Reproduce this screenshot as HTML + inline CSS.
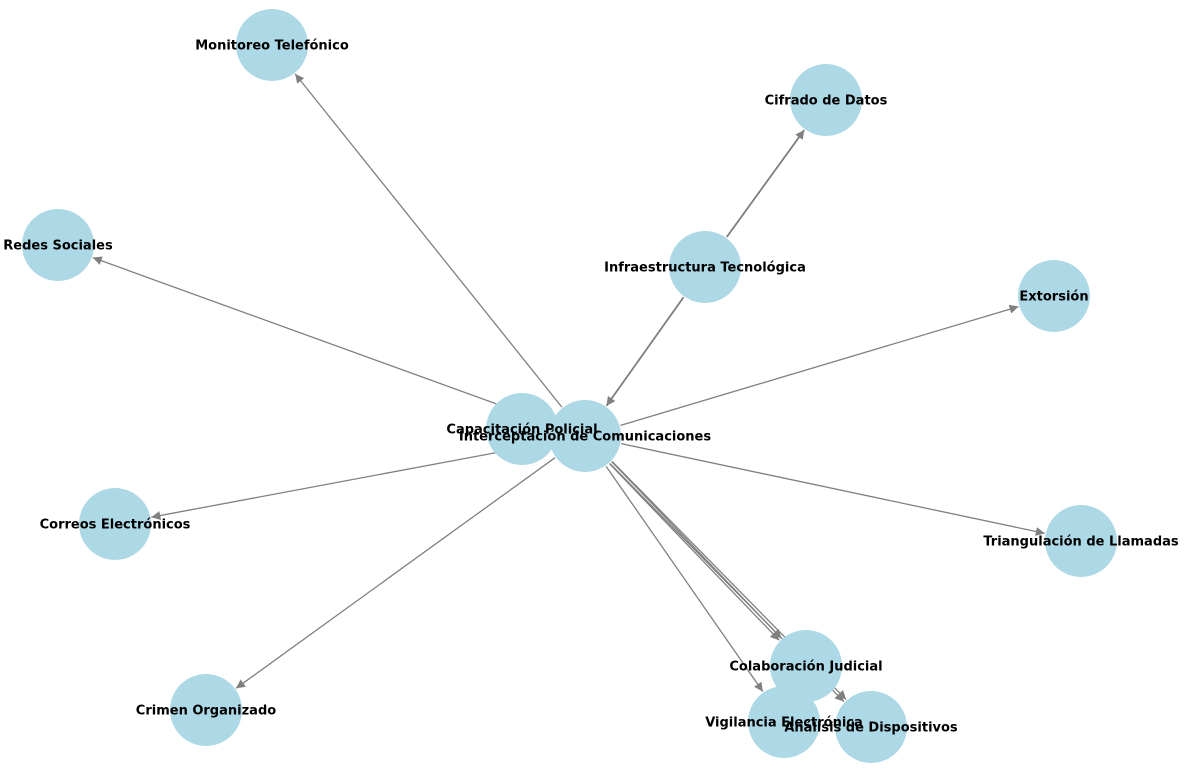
<!DOCTYPE html>
<html><head><meta charset="utf-8"><style>
body{margin:0;background:#fff}
svg{display:block}
text{font-family:"DejaVu Sans","Liberation Sans",sans-serif;font-weight:bold;font-size:13px;fill:#000;text-anchor:middle;dominant-baseline:central}
</style></head><body>
<svg id="s" width="1184" height="772" viewBox="0 0 1184 772" xmlns="http://www.w3.org/2000/svg">
<defs><marker id="a" viewBox="0 0 10 10" refX="10" refY="5" markerWidth="9" markerHeight="9" markerUnits="userSpaceOnUse" orient="auto"><path d="M0,0L10,5L0,10z" fill="#808080"/></marker></defs>
<g id="e"></g><g id="n"></g><g id="t"></g>
</svg>
<script>
var N={
MT:[272,45,"Monitoreo Telefónico"],CD:[826,100,"Cifrado de Datos"],RS:[58,245,"Redes Sociales"],
IT:[705,267,"Infraestructura Tecnológica"],EX:[1054,296,"Extorsión"],CP:[522,429,"Capacitación Policial"],
IC:[585,436,"Interceptación de Comunicaciones"],CE:[115,524,"Correos Electrónicos"],TL:[1081,541,"Triangulación de Llamadas"],
CJ:[806,666,"Colaboración Judicial"],CO:[206,710,"Crimen Organizado"],VE:[784,722,"Vigilancia Electrónica"],AD:[871,727,"Análisis de Dispositivos"]};
var E=[["IC","MT",0,1.3],["IC","RS",0,1.3],["IC","EX",0,1.3],["IC","TL",0,1.3],["IC","CE",0,1.3],["IC","CO",0,1.3],["IC","VE",0,1.3],
["IC","CJ",-1.5,1.3],["IC","CJ",1.5,1.3],["IC","AD",-1.5,1.3],["IC","AD",1.5,1.3],["IT","CD",0,1.8],["IT","IC",0,1.8]];
var ns="http://www.w3.org/2000/svg";
function el(t,a,p){var x=document.createElementNS(ns,t);for(var k in a)x.setAttribute(k,a[k]);document.getElementById(p).appendChild(x);return x;}
for(var k in N){var v=N[k];el("circle",{cx:v[0],cy:v[1],r:36,fill:"#add8e6"},"n");var t=el("text",{x:v[0],y:v[1]+1},"t");t.textContent=v[2];}
E.forEach(function(e){var a=N[e[0]],b=N[e[1]],dx=b[0]-a[0],dy=b[1]-a[1],L=Math.hypot(dx,dy),ux=dx/L,uy=dy/L,o=e[2],px=-uy*o,py=ux*o;
el("line",{x1:a[0]+ux*37+px,y1:a[1]+uy*37+py,x2:b[0]-ux*37+px,y2:b[1]-uy*37+py,stroke:"#808080","stroke-width":e[3],"marker-end":"url(#a)"},"e");});
</script>
</body></html>
